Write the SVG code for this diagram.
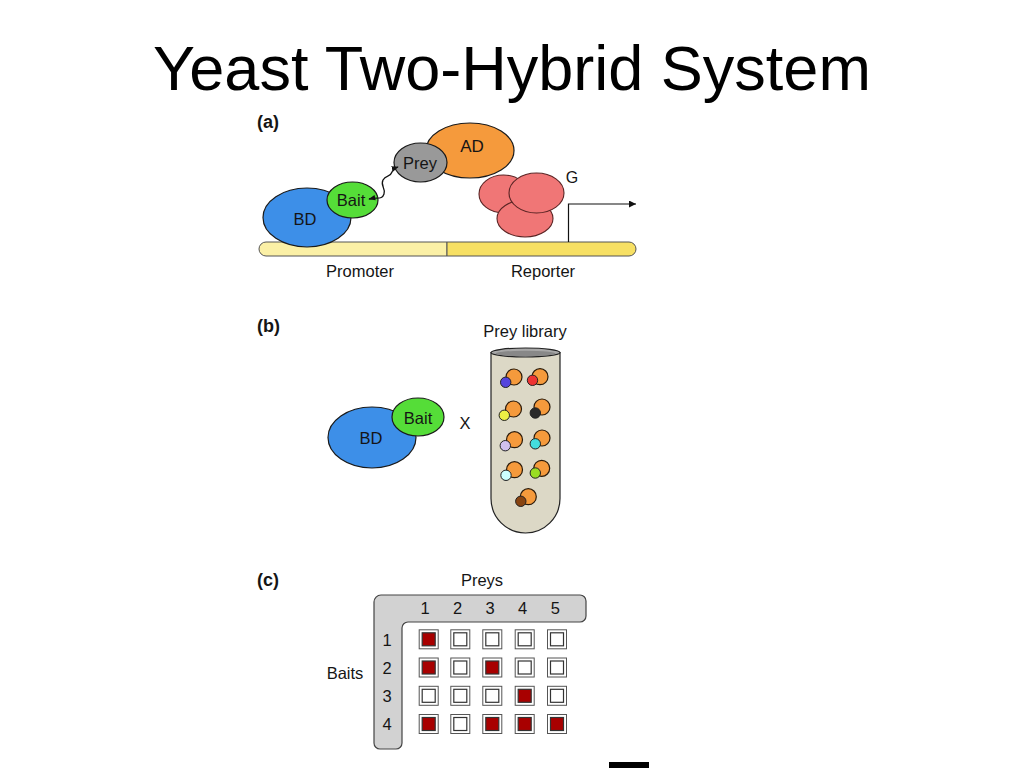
<svg xmlns="http://www.w3.org/2000/svg" width="1024" height="768" viewBox="0 0 1024 768">
<defs>
<style>
text{font-family:"Liberation Sans",Arial,sans-serif;fill:#151515}
.lbl{font-size:16.5px;text-anchor:middle}
.panel{font-size:18px;font-weight:bold}
.ol{stroke:#1a1a1a;stroke-width:1.2}
.pink{fill:#f07676;stroke:#5a2424;stroke-width:1.1}
.bead{fill:#f59a3c;stroke:#2a1a0a;stroke-width:1.2}
.sm{stroke:#222;stroke-width:1}
.sq{fill:#fff;stroke:#555;stroke-width:1}
.in{fill:#fff;stroke:#333;stroke-width:1.2}
.red{fill:#a80000;stroke:#333;stroke-width:1.2}
</style>
<marker id="ah" viewBox="0 0 10 10" refX="9" refY="5" markerWidth="7" markerHeight="7" orient="auto-start-reverse" markerUnits="userSpaceOnUse">
<path d="M0,1 L10,5 L0,9 z" fill="#111"/>
</marker>
<marker id="ah2" viewBox="0 0 10 10" refX="10" refY="5" markerWidth="12" markerHeight="7" orient="auto" markerUnits="userSpaceOnUse">
<path d="M0,0 L10,5 L0,10 z" fill="#111"/>
</marker>
</defs>
<rect width="1024" height="768" fill="#fff"/>
<text x="512" y="90" style="font-size:63px;text-anchor:middle;fill:#000">Yeast Two-Hybrid System</text>

<!-- Panel a -->
<text class="panel" x="257" y="128">(a)</text>
<g id="bar-a">
<path d="M266,242 H447 V256 H266 a7,7 0 0 1 0,-14 z" fill="#fbf0a6" stroke="#555" stroke-width="1"/>
<path d="M447,242 H629 a7,7 0 0 1 0,14 H447 z" fill="#f7e064" stroke="#555" stroke-width="1"/>
</g>
<g id="G">
<ellipse class="pink" cx="503.5" cy="194" rx="24.5" ry="19"/>
<ellipse class="pink" cx="525" cy="218.5" rx="28" ry="18.5"/>
<ellipse class="pink" cx="536.5" cy="193" rx="27.5" ry="20"/>
<text x="572" y="183" style="font-size:16px;text-anchor:middle">G</text>
</g>
<g id="BD-a">
<ellipse cx="307" cy="217.5" rx="44" ry="29.5" fill="#3d8fe8" class="ol"/>
<text class="lbl" x="305" y="225">BD</text>
</g>
<g id="Bait-a">
<ellipse cx="352.5" cy="200" rx="25.5" ry="18" fill="#55dd38" class="ol"/>
<text class="lbl" x="351" y="206">Bait</text>
</g>
<g id="AD">
<ellipse cx="470" cy="150.5" rx="44" ry="27.5" fill="#f59a3c" class="ol"/>
<text class="lbl" x="472" y="152" style="font-size:17px">AD</text>
</g>
<g id="Prey">
<ellipse cx="420.5" cy="162.5" rx="26.5" ry="19.5" fill="#999" class="ol"/>
<text class="lbl" x="420" y="169">Prey</text>
</g>
<g id="connectors">
<path d="M369,199 C378,197 382,200 384,194 C386,188 380,186 383,180 C386,174 390,178 392,172 C393,169 395,168 398,167" fill="none" stroke="#111" stroke-width="1.3" marker-start="url(#ah)" marker-end="url(#ah)"/>
<path d="M568.5,242 V204 H636" fill="none" stroke="#111" stroke-width="1.2" marker-end="url(#ah2)"/>
</g>
<text class="lbl" x="360" y="277">Promoter</text>
<text class="lbl" x="543" y="277">Reporter</text>

<!-- Panel b -->
<text class="panel" x="257" y="332">(b)</text>
<g id="BD-b">
<ellipse cx="372" cy="437.5" rx="44" ry="30.5" fill="#3d8fe8" class="ol"/>
<text class="lbl" x="371" y="444">BD</text>
</g>
<g id="Bait-b">
<ellipse cx="418" cy="417" rx="26" ry="19" fill="#55dd38" class="ol"/>
<text class="lbl" x="418" y="424">Bait</text>
</g>
<text class="lbl" x="465" y="429">X</text>
<text class="lbl" x="525" y="337">Prey library</text>
<g id="tube">
<path d="M491,352.5 V498.5 A34.5,34.5 0 0 0 560,498.5 V352.5 z" fill="#dcd8c6" stroke="#222" stroke-width="1.2"/>
<ellipse cx="525.5" cy="352.5" rx="34.5" ry="4.5" fill="#a8a8a8" stroke="#222" stroke-width="1.2"/>
<ellipse cx="525.5" cy="353.5" rx="30" ry="2.8" fill="#888"/>
</g>
<g id="beads">
<circle class="bead" cx="514" cy="377" r="8"/><circle class="sm" cx="505.7" cy="382.3" r="5.2" fill="#5544dd"/>
<circle class="bead" cx="540" cy="376.7" r="8"/><circle class="sm" cx="532.5" cy="380.3" r="5.2" fill="#ee3333"/>
<circle class="bead" cx="513.5" cy="409" r="8"/><circle class="sm" cx="504.3" cy="415.3" r="5.2" fill="#eeee44"/>
<circle class="bead" cx="542" cy="407" r="8"/><circle class="sm" cx="535.3" cy="413" r="5.2" fill="#2a2a2a"/>
<circle class="bead" cx="514.5" cy="439.7" r="8"/><circle class="sm" cx="505.3" cy="445.7" r="5.2" fill="#d0c0ee"/>
<circle class="bead" cx="542" cy="438" r="8"/><circle class="sm" cx="535.3" cy="443.8" r="5.2" fill="#44dddd"/>
<circle class="bead" cx="514.5" cy="469.7" r="8"/><circle class="sm" cx="506" cy="475.3" r="5.2" fill="#ccffff"/>
<circle class="bead" cx="541.7" cy="468.3" r="8"/><circle class="sm" cx="535.3" cy="473" r="5.2" fill="#99dd22"/>
<circle class="bead" cx="528.3" cy="496.7" r="8"/><circle class="sm" cx="520.8" cy="501.3" r="5.2" fill="#884411"/>
</g>

<!-- Panel c -->
<text class="panel" x="257" y="586">(c)</text>
<text class="lbl" x="482" y="586">Preys</text>
<g id="Lframe">
<path d="M381,595 H580 a6,6 0 0 1 6,6 V616 a6,6 0 0 1 -6,6 H408 a6,6 0 0 0 -6,6 V743 a6,6 0 0 1 -6,6 H380 a6,6 0 0 1 -6,-6 V602 a7,7 0 0 1 7,-7 z" fill="#d2d2d2" stroke="#444" stroke-width="1.2"/>
</g>
<g id="labels-c">
<text class="lbl" x="425" y="614">1</text>
<text class="lbl" x="457.7" y="614">2</text>
<text class="lbl" x="490" y="614">3</text>
<text class="lbl" x="522.7" y="614">4</text>
<text class="lbl" x="555.3" y="614">5</text>
<text class="lbl" x="387" y="646">1</text>
<text class="lbl" x="387" y="674">2</text>
<text class="lbl" x="387" y="702">3</text>
<text class="lbl" x="387" y="730">4</text>
<text class="lbl" x="345" y="679">Baits</text>
</g>
<g id="grid">
<g transform="translate(428.7,639.3)"><rect class="sq" x="-9.5" y="-9.5" width="19" height="19"/><rect class="red" x="-6.5" y="-6.5" width="13" height="13"/></g>
<g transform="translate(460.3,639.3)"><rect class="sq" x="-9.5" y="-9.5" width="19" height="19"/><rect class="in" x="-6.5" y="-6.5" width="13" height="13"/></g>
<g transform="translate(492.3,639.3)"><rect class="sq" x="-9.5" y="-9.5" width="19" height="19"/><rect class="in" x="-6.5" y="-6.5" width="13" height="13"/></g>
<g transform="translate(524.7,639.3)"><rect class="sq" x="-9.5" y="-9.5" width="19" height="19"/><rect class="in" x="-6.5" y="-6.5" width="13" height="13"/></g>
<g transform="translate(557,639.3)"><rect class="sq" x="-9.5" y="-9.5" width="19" height="19"/><rect class="in" x="-6.5" y="-6.5" width="13" height="13"/></g>

<g transform="translate(428.7,667.5)"><rect class="sq" x="-9.5" y="-9.5" width="19" height="19"/><rect class="red" x="-6.5" y="-6.5" width="13" height="13"/></g>
<g transform="translate(460.3,667.5)"><rect class="sq" x="-9.5" y="-9.5" width="19" height="19"/><rect class="in" x="-6.5" y="-6.5" width="13" height="13"/></g>
<g transform="translate(492.3,667.5)"><rect class="sq" x="-9.5" y="-9.5" width="19" height="19"/><rect class="red" x="-6.5" y="-6.5" width="13" height="13"/></g>
<g transform="translate(524.7,667.5)"><rect class="sq" x="-9.5" y="-9.5" width="19" height="19"/><rect class="in" x="-6.5" y="-6.5" width="13" height="13"/></g>
<g transform="translate(557,667.5)"><rect class="sq" x="-9.5" y="-9.5" width="19" height="19"/><rect class="in" x="-6.5" y="-6.5" width="13" height="13"/></g>

<g transform="translate(428.7,695.8)"><rect class="sq" x="-9.5" y="-9.5" width="19" height="19"/><rect class="in" x="-6.5" y="-6.5" width="13" height="13"/></g>
<g transform="translate(460.3,695.8)"><rect class="sq" x="-9.5" y="-9.5" width="19" height="19"/><rect class="in" x="-6.5" y="-6.5" width="13" height="13"/></g>
<g transform="translate(492.3,695.8)"><rect class="sq" x="-9.5" y="-9.5" width="19" height="19"/><rect class="in" x="-6.5" y="-6.5" width="13" height="13"/></g>
<g transform="translate(524.7,695.8)"><rect class="sq" x="-9.5" y="-9.5" width="19" height="19"/><rect class="red" x="-6.5" y="-6.5" width="13" height="13"/></g>
<g transform="translate(557,695.8)"><rect class="sq" x="-9.5" y="-9.5" width="19" height="19"/><rect class="in" x="-6.5" y="-6.5" width="13" height="13"/></g>

<g transform="translate(428.7,724)"><rect class="sq" x="-9.5" y="-9.5" width="19" height="19"/><rect class="red" x="-6.5" y="-6.5" width="13" height="13"/></g>
<g transform="translate(460.3,724)"><rect class="sq" x="-9.5" y="-9.5" width="19" height="19"/><rect class="in" x="-6.5" y="-6.5" width="13" height="13"/></g>
<g transform="translate(492.3,724)"><rect class="sq" x="-9.5" y="-9.5" width="19" height="19"/><rect class="red" x="-6.5" y="-6.5" width="13" height="13"/></g>
<g transform="translate(524.7,724)"><rect class="sq" x="-9.5" y="-9.5" width="19" height="19"/><rect class="red" x="-6.5" y="-6.5" width="13" height="13"/></g>
<g transform="translate(557,724)"><rect class="sq" x="-9.5" y="-9.5" width="19" height="19"/><rect class="red" x="-6.5" y="-6.5" width="13" height="13"/></g>
</g>
<rect x="609" y="762" width="40" height="6" fill="#000"/>
</svg>
